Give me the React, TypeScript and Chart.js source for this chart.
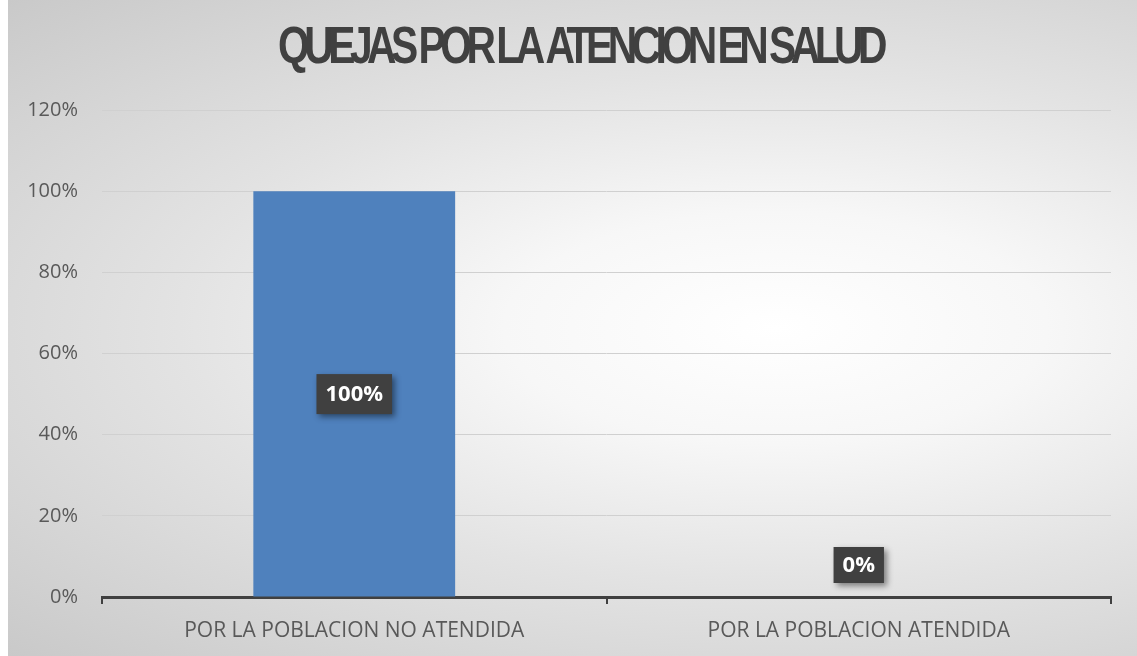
import React, { useEffect, useRef } from "react";
import { Chart, registerables } from "chart.js";

Chart.register(...registerables);

const titleText = "QUEJAS POR LA ATENCION EN SALUD";
const categories = ["POR LA POBLACION NO ATENDIDA", "POR LA POBLACION ATENDIDA"];
const values = [1.0, 0.0];
const yTicks = [0, 0.2, 0.4, 0.6, 0.8, 1.0, 1.2];

const titlePlugin = {
  id: "condensedTitle",
  afterDraw(chart: any) {
    const ctx = chart.ctx;
    ctx.save();
    ctx.font = "bold 52px 'Liberation Sans', Arial, sans-serif";
    ctx.fillStyle = "#404040";
    ctx.textAlign = "center";
    ctx.textBaseline = "alphabetic";
    (ctx as any).letterSpacing = "-7px";
    const w = ctx.measureText(titleText).width;
    const sx = 604 / w;
    ctx.translate(572, 63);
    ctx.scale(sx, 1);
    ctx.fillText(titleText, 0, 0);
    ctx.restore();
  },
};

const labelPlugin = {
  id: "boxLabels",
  afterDatasetsDraw(chart: any) {
    const ctx = chart.ctx;
    const meta = chart.getDatasetMeta(0);
    const yScale = chart.scales.y;
    meta.data.forEach((bar: any, i: number) => {
      const v = values[i];
      const text = Math.round(v * 100) + "%";
      ctx.save();
      ctx.font = "bold 22px 'Open Sans', sans-serif";
      const tw = ctx.measureText(text).width;
      const bw = tw + 18;
      const bh = v > 0 ? 40 : 36;
      let cy: number;
      if (v > 0) {
        cy = (bar.y + yScale.getPixelForValue(0)) / 2;
      } else {
        cy = bar.y - 14 - bh / 2;
      }
      const cx = bar.x;
      ctx.shadowColor = "rgba(0,0,0,0.45)";
      ctx.shadowBlur = 6;
      ctx.shadowOffsetX = 3;
      ctx.shadowOffsetY = 3;
      ctx.fillStyle = "#404040";
      ctx.fillRect(cx - bw / 2, cy - bh / 2, bw, bh);
      ctx.shadowColor = "transparent";
      ctx.fillStyle = "#ffffff";
      ctx.textAlign = "center";
      ctx.textBaseline = "middle";
      ctx.fillText(text, cx, cy + 1);
      ctx.restore();
    });
  },
};

export default function App() {
  const ref = useRef<HTMLCanvasElement>(null);
  useEffect(() => {
    if (!ref.current) return;
    const chart = new Chart(ref.current, {
      type: "bar",
      data: {
        labels: categories,
        datasets: [
          {
            data: values,
            backgroundColor: "#4F81BD",
            barPercentage: 0.4,
            categoryPercentage: 1,
          },
        ],
      },
      options: {
        animation: false,
        responsive: true,
        maintainAspectRatio: false,
        layout: { padding: { top: 110, right: 26, bottom: 0, left: 0 } },
        plugins: {
          legend: { display: false },
          tooltip: { enabled: false },
          title: { display: false },
        },
        scales: {
          x: {
            grid: {
              offset: true,
              drawOnChartArea: false,
              drawTicks: true,
              tickLength: 7,
              color: "#404040",
              lineWidth: 2,
            },
            border: { display: true, color: "#404040", width: 3 },
            ticks: {
              color: "#595959",
              font: { family: "'Liberation Sans Narrow', 'Open Sans', sans-serif", size: 21 },
              padding: 14,
              maxRotation: 0,
            },
            afterFit(scale: any) {
              scale.height = 59;
            },
          },
          y: {
            min: 0,
            max: 1.2,
            afterBuildTicks(scale: any) {
              scale.ticks = yTicks.map((v) => ({ value: v }));
            },
            ticks: {
              color: "#595959",
              font: { family: "'Open Sans', sans-serif", size: 20 },
              padding: 24,
              callback: (v: any) => Math.round(Number(v) * 100) + "%",
            },
            grid: { color: "#d0d0d0", lineWidth: 1, drawTicks: false },
            border: { display: false },
            afterFit(scale: any) {
              scale.width = 94;
            },
          },
        },
      },
      plugins: [titlePlugin, labelPlugin],
    });
    return () => chart.destroy();
  }, []);

  return (
    <div
      style={{
        position: "absolute",
        left: 8,
        top: 0,
        width: 1129,
        height: 656,
        background:
          "radial-gradient(ellipse farthest-corner at 68% 50%, #ffffff 0%, #f7f7f7 25%, #e3e3e3 55%, #c9c9c9 100%)",
      }}
    >
      <canvas ref={ref} />
    </div>
  );
}
